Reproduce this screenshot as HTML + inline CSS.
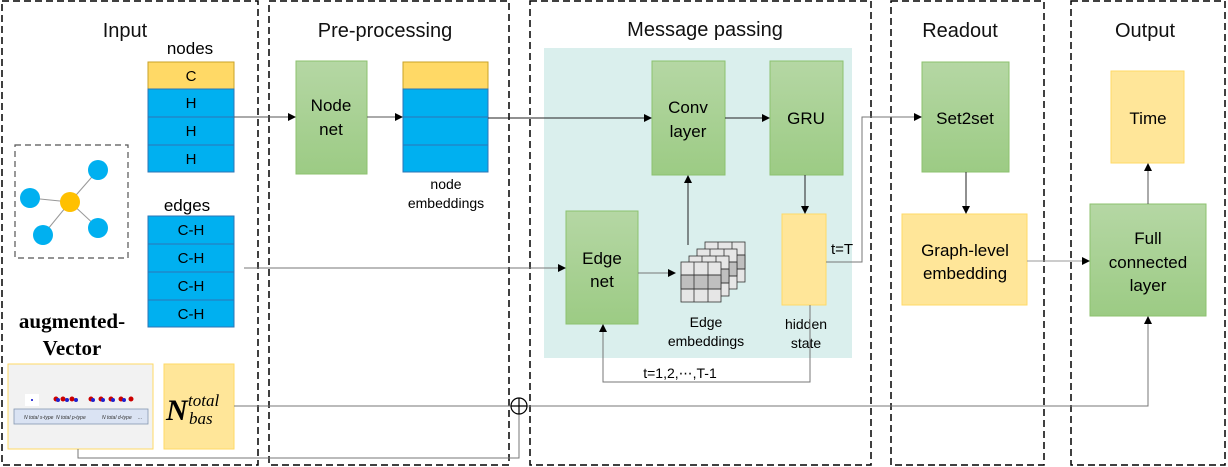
<!DOCTYPE html>
<html><head><meta charset="utf-8"><style>
html,body{margin:0;padding:0;background:#fff;}
svg{display:block;font-family:"Liberation Sans","DejaVu Sans",sans-serif;}
</style></head><body>
<svg width="1228" height="467" viewBox="0 0 1228 467" xmlns="http://www.w3.org/2000/svg">
<defs>
<linearGradient id="g" x1="0" y1="0" x2="0" y2="1"><stop offset="0" stop-color="#b5d7a4"/><stop offset="1" stop-color="#9ccb84"/></linearGradient>
<marker id="a" markerWidth="8" markerHeight="8" refX="7" refY="4" orient="auto" markerUnits="userSpaceOnUse"><path d="M0,0 L8,4 L0,8 z" fill="#000"/></marker>
</defs>
<g fill="none" stroke="#000" stroke-width="1.5" stroke-dasharray="7,4">
<rect x="2" y="1" width="256" height="464"/>
<rect x="269" y="1" width="240" height="464"/>
<rect x="530" y="1" width="341" height="464"/>
<rect x="891" y="1" width="153" height="464"/>
<rect x="1071" y="1" width="154" height="464"/>
</g>
<g font-size="20" text-anchor="middle" fill="#111">
<text x="125" y="37">Input</text>
<text x="385" y="37">Pre-processing</text>
<text x="705" y="36">Message passing</text>
<text x="960" y="37">Readout</text>
<text x="1145" y="37">Output</text>
</g>
<rect x="544" y="48" width="308" height="310" fill="#daefed"/>
<text x="190" y="54" font-size="17" text-anchor="middle">nodes</text>
<g stroke="#2e75b6" stroke-width="1">
<rect x="148" y="62" width="86" height="27" fill="#ffd966" stroke="#c9a227"/>
<rect x="148" y="89" width="86" height="28" fill="#00b0f0"/>
<rect x="148" y="117" width="86" height="28" fill="#00b0f0"/>
<rect x="148" y="145" width="86" height="27" fill="#00b0f0"/>
</g>
<g font-size="15" text-anchor="middle">
<text x="191" y="81">C</text><text x="191" y="108">H</text><text x="191" y="136">H</text><text x="191" y="164">H</text>
</g>
<text x="187" y="211" font-size="17" text-anchor="middle">edges</text>
<g stroke="#2e75b6" stroke-width="1" fill="#00b0f0">
<rect x="148" y="216" width="86" height="28"/><rect x="148" y="244" width="86" height="28"/>
<rect x="148" y="272" width="86" height="28"/><rect x="148" y="300" width="86" height="27"/>
</g>
<g font-size="15" text-anchor="middle">
<text x="191" y="235">C-H</text><text x="191" y="263">C-H</text><text x="191" y="291">C-H</text><text x="191" y="319">C-H</text>
</g>
<rect x="15" y="145" width="113" height="113" fill="none" stroke="#555" stroke-width="1.2" stroke-dasharray="6,4"/>
<g stroke="#999" stroke-width="1">
<line x1="70" y1="202" x2="98" y2="170"/><line x1="70" y1="202" x2="30" y2="198"/>
<line x1="70" y1="202" x2="43" y2="235"/><line x1="70" y1="202" x2="98" y2="228"/>
</g>
<g fill="#00b0f0"><circle cx="98" cy="170" r="10"/><circle cx="30" cy="198" r="10"/><circle cx="43" cy="235" r="10"/><circle cx="98" cy="228" r="10"/></g>
<circle cx="70" cy="202" r="10" fill="#ffc000"/>
<g font-family="Liberation Serif,serif" font-weight="bold" font-size="21" text-anchor="middle">
<text x="72" y="328">augmented-</text><text x="72" y="355">Vector</text>
</g>
<rect x="8" y="364" width="145" height="85" fill="#f2f2f2" stroke="#ffd966"/>
<rect x="14" y="409" width="134" height="15" fill="#dae3f3" stroke="#8497b0" stroke-width="0.8"/>
<rect x="25" y="394" width="14" height="12" fill="#fff"/>
<circle cx="32" cy="400" r="1" fill="#00c"/>
<g fill="#c00"><circle cx="56" cy="399" r="2.5"/><circle cx="63" cy="399" r="2.5"/><circle cx="72" cy="399" r="2.5"/><circle cx="91" cy="399" r="2.5"/><circle cx="101" cy="399" r="2.5"/><circle cx="111" cy="399" r="2.5"/><circle cx="121" cy="399" r="2.5"/><circle cx="131" cy="399" r="2.5"/></g>
<g fill="#22c"><circle cx="58" cy="400" r="2"/><circle cx="67" cy="400" r="2"/><circle cx="76" cy="400" r="2"/><circle cx="93" cy="400" r="2"/><circle cx="103" cy="400" r="2"/><circle cx="113" cy="400" r="2"/><circle cx="124" cy="400" r="2"/></g>
<g font-size="5" font-style="italic" fill="#333"><text x="24" y="419">N total s-type</text><text x="56" y="419">N total p-type</text><text x="102" y="419">N total d-type</text><text x="138" y="419">...</text></g>
<rect x="164" y="364" width="70" height="85" fill="#ffe699" stroke="#ffd966"/>
<text x="166" y="420" font-family="Liberation Serif,serif" font-weight="bold" font-style="italic" font-size="30">N</text>
<text x="188" y="406" font-family="Liberation Serif,serif" font-style="italic" font-size="17">total</text>
<text x="189" y="424" font-family="Liberation Serif,serif" font-style="italic" font-size="17">bas</text>
<rect x="296" y="61" width="71" height="113" fill="url(#g)" stroke="#8cc26e"/>
<text x="331" y="111" font-size="17" text-anchor="middle">Node</text><text x="331" y="135" font-size="17" text-anchor="middle">net</text>
<rect x="403" y="62" width="85" height="27" fill="#ffd966" stroke="#c9a227"/>
<rect x="403" y="89" width="85" height="83" fill="#00b0f0" stroke="#2e75b6"/>
<line x1="403" y1="117" x2="488" y2="117" stroke="#2e75b6"/><line x1="403" y1="145" x2="488" y2="145" stroke="#2e75b6"/>
<text x="446" y="189" font-size="14" text-anchor="middle">node</text><text x="446" y="208" font-size="14" text-anchor="middle">embeddings</text>
<rect x="652" y="61" width="73" height="114" fill="url(#g)" stroke="#8cc26e"/>
<text x="688" y="113" font-size="17" text-anchor="middle">Conv</text><text x="688" y="137" font-size="17" text-anchor="middle">layer</text>
<rect x="770" y="61" width="73" height="114" fill="url(#g)" stroke="#8cc26e"/>
<text x="806" y="124" font-size="17" text-anchor="middle">GRU</text>
<rect x="566" y="211" width="72" height="113" fill="url(#g)" stroke="#8cc26e"/>
<text x="602" y="264" font-size="17" text-anchor="middle">Edge</text><text x="602" y="287" font-size="17" text-anchor="middle">net</text>
<rect x="782" y="214" width="44" height="91" fill="#ffe699" stroke="#ffd966"/>
<text x="806" y="329" font-size="14" text-anchor="middle">hidden</text><text x="806" y="348" font-size="14" text-anchor="middle">state</text>
<text x="706" y="327" font-size="14" text-anchor="middle">Edge</text><text x="706" y="346" font-size="14" text-anchor="middle">embeddings</text>
<g stroke="#333" stroke-width="0.8">
<g transform="translate(705,242)"><rect width="40" height="40" fill="#e6e6e6"/><rect y="13" width="40" height="14" fill="#bfbfbf"/><path d="M13,0V40M27,0V40M0,13H40M0,27H40" fill="none"/></g>
<g transform="translate(697,249)"><rect width="40" height="40" fill="#e6e6e6"/><rect y="13" width="40" height="14" fill="#bfbfbf"/><path d="M13,0V40M27,0V40M0,13H40M0,27H40" fill="none"/></g>
<g transform="translate(689,256)"><rect width="40" height="40" fill="#e6e6e6"/><rect y="13" width="40" height="14" fill="#bfbfbf"/><path d="M13,0V40M27,0V40M0,13H40M0,27H40" fill="none"/></g>
<g transform="translate(681,262)"><rect width="40" height="40" fill="#e6e6e6"/><rect y="13" width="40" height="14" fill="#bfbfbf"/><path d="M13,0V40M27,0V40M0,13H40M0,27H40" fill="none"/></g>
</g>
<text x="831" y="254" font-size="15">t=T</text>
<text x="680" y="378" font-size="14" text-anchor="middle">t=1,2,⋯,T-1</text>
<rect x="922" y="62" width="87" height="110" fill="url(#g)" stroke="#8cc26e"/>
<text x="965" y="124" font-size="17" text-anchor="middle">Set2set</text>
<rect x="902" y="214" width="125" height="91" fill="#ffe699" stroke="#ffd966"/>
<text x="965" y="256" font-size="17" text-anchor="middle">Graph-level</text><text x="965" y="279" font-size="17" text-anchor="middle">embedding</text>
<rect x="1111" y="71" width="73" height="92" fill="#ffe699" stroke="#ffd966"/>
<text x="1148" y="124" font-size="17" text-anchor="middle">Time</text>
<rect x="1090" y="204" width="116" height="112" fill="url(#g)" stroke="#8cc26e"/>
<text x="1148" y="244" font-size="17" text-anchor="middle">Full</text><text x="1148" y="268" font-size="17" text-anchor="middle">connected</text><text x="1148" y="291" font-size="17" text-anchor="middle">layer</text>
<g fill="none" stroke-width="1">
<line x1="234" y1="117" x2="295" y2="117" stroke="#555" marker-end="url(#a)"/>
<line x1="367" y1="117" x2="402" y2="117" stroke="#555" marker-end="url(#a)"/>
<line x1="488" y1="118" x2="651" y2="118" stroke="#222" marker-end="url(#a)"/>
<line x1="725" y1="118" x2="769" y2="118" stroke="#222" marker-end="url(#a)"/>
<line x1="805" y1="175" x2="805" y2="213" stroke="#222" marker-end="url(#a)"/>
<line x1="244" y1="268" x2="565" y2="268" stroke="#777" marker-end="url(#a)"/>
<line x1="638" y1="273" x2="675" y2="273" stroke="#777" marker-end="url(#a)"/>
<line x1="688" y1="245" x2="688" y2="176" stroke="#222" marker-end="url(#a)"/>
<polyline points="826,262 862,262 862,117 921,117" stroke="#777" marker-end="url(#a)"/>
<polyline points="810,305 810,382 603,382 603,325" stroke="#777" marker-end="url(#a)"/>
<line x1="966" y1="172" x2="966" y2="213" stroke="#222" marker-end="url(#a)"/>
<line x1="1027" y1="261" x2="1089" y2="261" stroke="#999" marker-end="url(#a)"/>
<line x1="1148" y1="204" x2="1148" y2="164" stroke="#555" marker-end="url(#a)"/>
<polyline points="234,406 1148,406 1148,317" stroke="#777" marker-end="url(#a)"/>
<polyline points="78,449 78,458 519,458 519,414" stroke="#777"/>
</g>
<circle cx="519" cy="406" r="8" fill="#fff" stroke="#000" stroke-width="1.2"/>
<path d="M511,406H527M519,398V414" stroke="#000" stroke-width="1.2"/>
</svg>
</body></html>
